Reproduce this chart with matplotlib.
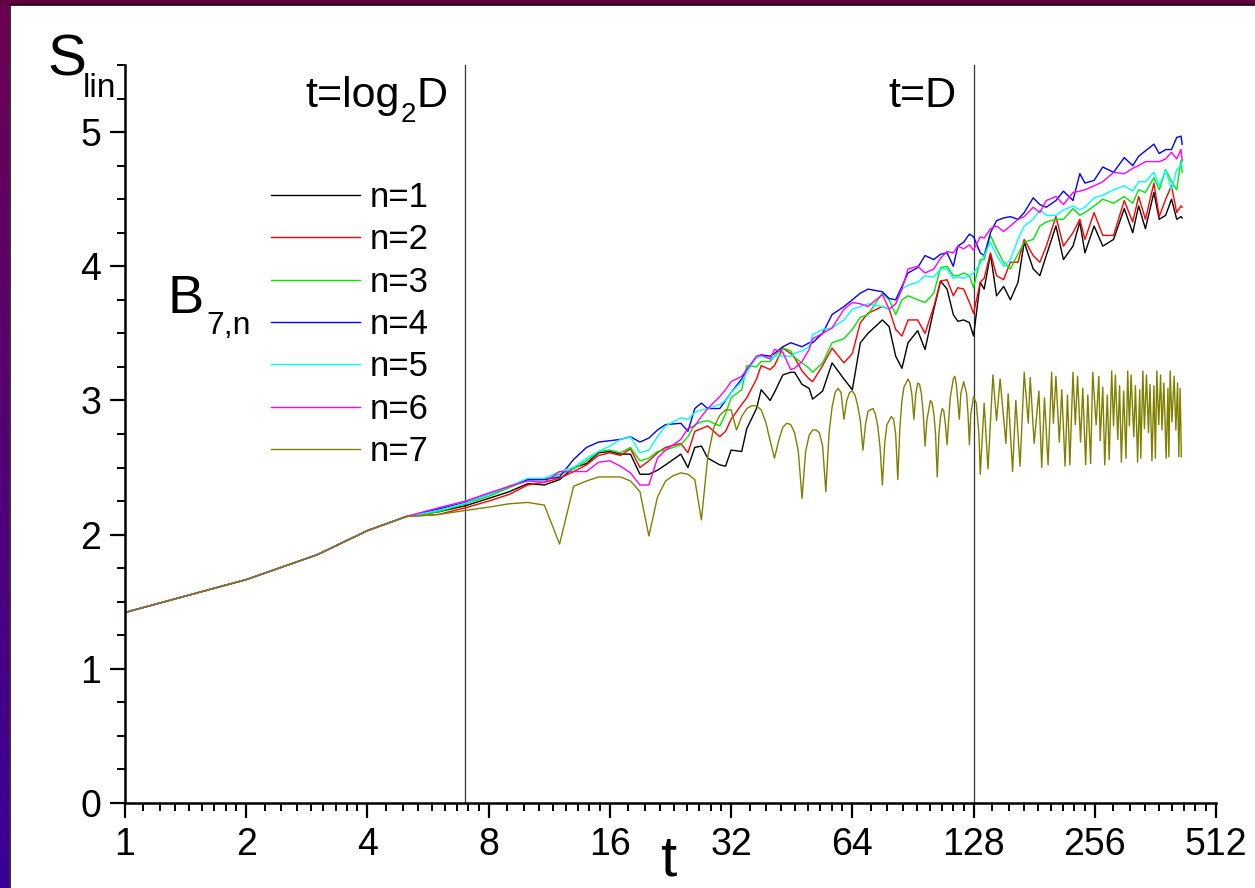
import numpy as np
import matplotlib
matplotlib.use("Agg")
import matplotlib.pyplot as plt
from matplotlib.ticker import FixedLocator, MultipleLocator, NullFormatter

plt.rcParams['font.family'] = ['Liberation Sans Narrow', 'Liberation Sans', 'DejaVu Sans']

# common start of all curves
t_start = [1, 2, 3, 4, 5]
s_start = [1.42, 1.665, 1.85, 2.03, 2.135]

# sample times for n=1..6
t_mid = [6, 7, 8, 9, 10, 11, 12, 13, 14, 15,
         16, 17, 18, 19, 20, 21, 22, 24, 25, 26,
         27, 28, 30, 31, 32, 34, 35, 37, 38, 40,
         41, 43, 45, 46, 48, 50, 51, 54, 57, 61,
         64, 67, 70, 76, 79, 82, 85, 88, 93, 97,
         102, 106, 110, 114, 117, 121, 125, 128, 133, 136,
         141, 146, 152, 158, 165, 171, 180, 187, 194, 205,
         214, 226, 235, 242, 255, 268, 285, 303, 318, 329,
         342, 359, 370, 384, 397, 409, 419, 422]

s_n1 = [2.17, 2.215, 2.27, 2.32, 2.38, 2.37, 2.41, 2.50, 2.53, 2.61,
        2.62, 2.60, 2.60, 2.45, 2.45, 2.48, 2.52, 2.60, 2.50, 2.65,
        2.66, 2.57, 2.52, 2.51, 2.63, 2.62, 2.79, 2.94, 3.08, 3.00,
        3.06, 3.19, 3.21, 3.21, 3.12, 3.09, 3.01, 3.07, 3.28, 3.16,
        3.08, 3.43, 3.50, 3.60, 3.55, 3.33, 3.24, 3.43, 3.52, 3.38,
        3.68, 3.89, 3.83, 3.64, 3.59, 3.60, 3.58, 3.48, 3.88, 3.83,
        4.09, 3.78, 3.85, 3.75, 3.88, 4.18, 3.98, 3.93, 4.08, 4.30,
        4.05, 4.15, 4.33, 4.10, 4.30, 4.15, 4.20, 4.43, 4.25, 4.45,
        4.28, 4.55, 4.35, 4.38, 4.50, 4.35, 4.37, 4.36]

s_n2 = [2.15, 2.20, 2.25, 2.30, 2.37, 2.39, 2.42, 2.47, 2.52, 2.59,
        2.61, 2.59, 2.64, 2.50, 2.55, 2.61, 2.65, 2.68, 2.61, 2.77,
        2.79, 2.81, 2.73, 2.77, 2.86, 2.97, 3.02, 3.16, 3.26, 3.23,
        3.26, 3.39, 3.35, 3.32, 3.22, 3.16, 3.14, 3.26, 3.39, 3.28,
        3.35, 3.58, 3.65, 3.70, 3.68, 3.53, 3.48, 3.60, 3.60, 3.50,
        3.70, 3.89, 3.90, 3.78, 3.84, 3.83, 3.73, 3.65, 3.88, 3.91,
        4.10, 3.93, 3.90, 4.03, 4.03, 4.20, 4.08, 4.03, 4.15, 4.37,
        4.15, 4.25, 4.35, 4.20, 4.40, 4.23, 4.23, 4.49, 4.33, 4.52,
        4.35, 4.62, 4.37, 4.50, 4.60, 4.40, 4.45, 4.44]

s_n3 = [2.17, 2.23, 2.285, 2.35, 2.41, 2.41, 2.45, 2.49, 2.55, 2.62,
        2.63, 2.61, 2.65, 2.55, 2.57, 2.62, 2.63, 2.67, 2.73, 2.82,
        2.84, 2.85, 2.81, 2.90, 3.02, 3.08, 3.26, 3.25, 3.29, 3.29,
        3.33, 3.39, 3.37, 3.32, 3.28, 3.24, 3.21, 3.28, 3.43, 3.46,
        3.53, 3.62, 3.64, 3.80, 3.75, 3.64, 3.75, 3.78, 3.75, 3.73,
        3.80, 3.99, 4.00, 3.93, 3.93, 3.95, 3.93, 3.84, 4.05, 4.05,
        4.23, 4.13, 4.03, 3.98, 4.09, 4.18, 4.20, 4.30, 4.33, 4.35,
        4.35, 4.43, 4.38, 4.40, 4.45, 4.50, 4.47, 4.52, 4.47, 4.57,
        4.55, 4.66, 4.57, 4.72, 4.63, 4.57, 4.79, 4.70]

s_n4 = [2.19, 2.24, 2.30, 2.36, 2.41, 2.41, 2.43, 2.56, 2.65, 2.69,
        2.70, 2.71, 2.73, 2.69, 2.72, 2.78, 2.82, 2.83, 2.77, 2.94,
        2.98, 2.94, 2.94, 3.00, 3.06, 3.16, 3.23, 3.32, 3.34, 3.33,
        3.35, 3.40, 3.43, 3.42, 3.40, 3.43, 3.43, 3.50, 3.64, 3.70,
        3.75, 3.80, 3.83, 3.81, 3.76, 3.75, 3.85, 3.95, 3.99, 4.08,
        4.05, 4.09, 4.10, 4.00, 4.15, 4.18, 4.24, 4.22, 4.10, 4.08,
        4.25, 4.34, 4.36, 4.37, 4.35, 4.40, 4.51, 4.46, 4.44, 4.49,
        4.56, 4.49, 4.69, 4.62, 4.64, 4.74, 4.70, 4.81, 4.75, 4.82,
        4.86, 4.91, 4.84, 4.87, 4.87, 4.96, 4.97, 4.91]

s_n5 = [2.18, 2.235, 2.30, 2.36, 2.42, 2.42, 2.47, 2.50, 2.57, 2.62,
        2.66, 2.71, 2.73, 2.61, 2.63, 2.73, 2.81, 2.87, 2.86, 2.91,
        2.93, 2.94, 2.97, 3.00, 3.06, 3.14, 3.21, 3.32, 3.33, 3.31,
        3.33, 3.33, 3.33, 3.35, 3.37, 3.40, 3.49, 3.53, 3.54, 3.60,
        3.68, 3.70, 3.72, 3.70, 3.68, 3.72, 3.83, 3.86, 3.88, 3.93,
        3.92, 3.98, 3.98, 3.91, 3.92, 3.91, 3.93, 3.95, 4.02, 4.08,
        4.18, 4.08, 4.00, 4.05, 4.20, 4.30, 4.35, 4.42, 4.38, 4.38,
        4.42, 4.45, 4.42, 4.44, 4.51, 4.53, 4.57, 4.60, 4.56, 4.63,
        4.63, 4.70, 4.60, 4.72, 4.57, 4.72, 4.75, 4.78]

s_n6 = [2.20, 2.25, 2.31, 2.36, 2.40, 2.39, 2.47, 2.47, 2.47, 2.54,
        2.55, 2.51, 2.46, 2.37, 2.37, 2.57, 2.63, 2.71, 2.79, 2.81,
        2.88, 2.94, 3.03, 3.08, 3.14, 3.18, 3.23, 3.33, 3.34, 3.31,
        3.38, 3.36, 3.23, 3.24, 3.29, 3.38, 3.46, 3.50, 3.54, 3.68,
        3.73, 3.72, 3.70, 3.79, 3.68, 3.72, 3.83, 3.98, 4.00, 3.95,
        3.98, 4.06, 4.11, 4.10, 4.15, 4.13, 4.16, 4.12, 4.22, 4.21,
        4.28, 4.30, 4.26, 4.30, 4.35, 4.37, 4.44, 4.40, 4.49, 4.52,
        4.46, 4.55, 4.56, 4.57, 4.60, 4.63, 4.70, 4.69, 4.73, 4.75,
        4.78, 4.78, 4.78, 4.80, 4.85, 4.80, 4.87, 4.79]

# n=7 oscillates strongly, own sample times
t_n7 = [6, 7, 8, 9, 10, 11, 12, 13, 14, 15, 16, 17, 18, 19, 20,
        21, 22, 23, 24, 25, 26, 27, 28, 29, 30, 31, 32, 33, 34, 35,
        36, 37, 38, 39, 40, 41, 42, 43, 44, 45, 46, 47, 48, 49, 50,
        51, 52, 53, 54, 55, 56, 57, 58, 59, 60, 61, 62, 63, 64, 65,
        66, 67, 68, 69, 70, 72, 73, 74, 75, 76, 77, 78, 80, 81, 82,
        83, 84, 85, 86, 88, 89, 90, 91, 92, 93, 94, 95, 96, 97, 98,
        100, 101, 102, 103, 104, 105, 106, 107, 108, 109, 110, 112, 114, 115, 116,
        118, 119, 121, 123, 124, 125, 126, 128, 130, 132, 133, 136, 139, 143, 146,
        149, 154, 156, 160, 163, 167, 171, 175, 177, 181, 186, 189, 192, 196, 200,
        202, 205, 209, 212, 216, 219, 222, 226, 229, 232, 236, 239, 243, 246, 250,
        253, 258, 262, 264, 268, 271, 275, 278, 282, 285, 288, 292, 295, 298, 302,
        306, 309, 312, 315, 320, 323, 327, 331, 333, 337, 340, 344, 348, 351, 355,
        359, 362, 365, 369, 373, 376, 380, 385, 389, 391, 394, 398, 403, 407, 411,
        414, 417, 420]

s_n7 = [2.15, 2.18, 2.205, 2.23, 2.24, 2.22, 1.93, 2.36, 2.40, 2.43, 2.43, 2.43, 2.40, 2.32, 1.99,
        2.28, 2.40, 2.44, 2.46, 2.45, 2.41, 2.11, 2.58, 2.80, 2.89, 2.93, 2.93, 2.78, 2.88, 2.94,
        2.96, 2.96, 2.93, 2.84, 2.70, 2.57, 2.70, 2.80, 2.83, 2.82, 2.76, 2.62, 2.27, 2.62, 2.74,
        2.78, 2.78, 2.76, 2.66, 2.32, 2.75, 2.95, 3.06, 3.09, 3.06, 2.86, 3.00, 3.06, 3.07, 3.04,
        2.96, 2.85, 2.63, 2.82, 2.92, 2.94, 2.90, 2.81, 2.65, 2.37, 2.68, 2.82, 2.88, 2.86, 2.75,
        2.41, 2.80, 3.00, 3.10, 3.16, 3.13, 3.04, 2.86, 3.05, 3.13, 3.12, 3.05, 2.90, 2.66, 2.85,
        3.00, 2.98, 2.90, 2.75, 2.43, 2.75, 2.88, 2.94, 2.92, 2.82, 2.67, 3.02, 3.16, 3.18, 3.12,
        2.86, 3.05, 3.14, 3.05, 2.90, 2.67, 2.90, 3.03, 2.98, 2.75, 2.45, 2.98, 2.49, 3.19, 2.85,
        3.16, 2.68, 3.05, 2.47, 3.00, 2.51, 3.21, 2.83, 3.17, 2.68, 3.07, 2.50, 3.02, 2.52, 3.21,
        2.83, 3.18, 2.69, 3.08, 2.51, 3.04, 2.52, 3.21, 2.82, 3.18, 2.69, 3.09, 2.52, 3.04, 2.53,
        3.21, 2.82, 3.18, 2.70, 3.10, 2.52, 3.04, 2.56, 3.22, 2.81, 3.19, 2.71, 3.11, 2.54, 3.07,
        2.57, 3.22, 2.81, 3.19, 2.73, 3.11, 2.54, 3.08, 2.57, 3.22, 2.79, 3.19, 2.76, 3.12, 2.55,
        3.11, 2.57, 3.22, 2.82, 3.19, 2.78, 3.13, 2.57, 3.09, 2.58, 3.22, 2.84, 3.18, 2.78, 3.13,
        2.58, 3.09, 2.58]

labels = ['n=1', 'n=2', 'n=3', 'n=4', 'n=5', 'n=6', 'n=7']
colors = ['#000000', '#ff0000', '#00e800', '#0000ff', '#00ffff', '#ff00ff', '#808000']

fig = plt.figure(figsize=(12.55, 8.88), dpi=100, facecolor='white')

# slide background edges (purple gradient on the left, dark strip on top)
left_bg = fig.add_axes([0, 0, 9 / 1255, 1])
grad = np.linspace(0, 1, 256).reshape(-1, 1)
cmap = matplotlib.colors.LinearSegmentedColormap.from_list('bg', ['#6c0052', '#3a0098'])
left_bg.imshow(grad, aspect='auto', cmap=cmap, extent=[0, 1, 0, 1], origin='upper')
left_bg.axis('off')
top_bg = fig.add_axes([0, 1 - 5 / 888, 1, 5 / 888])
top_bg.set_facecolor('#60003f')
top_bg.set_xticks([])
top_bg.set_yticks([])
for sp in top_bg.spines.values():
    sp.set_visible(False)
fig.add_artist(plt.Line2D([9.5 / 1255, 9.5 / 1255], [0, 1 - 5 / 888], color='#1a0010', lw=1.2))
fig.add_artist(plt.Line2D([9.5 / 1255, 1], [1 - 5.5 / 888, 1 - 5.5 / 888], color='#1a0010', lw=1.2))

ax = fig.add_axes([125 / 1255, 1 - 803 / 888, (1216 - 125) / 1255, (803 - 65) / 888])

series = [s_n1, s_n2, s_n3, s_n4, s_n5, s_n6]
for s, lab, c in zip(series, labels[:6], colors[:6]):
    ax.plot(t_start + t_mid, s_start + s, color=c, lw=1.0, label=lab)
ax.plot(t_start + t_n7, s_start + s_n7, color=colors[6], lw=1.0, label=labels[6])

ax.axvline(7, color='#333333', lw=0.9, zorder=0)
ax.axvline(128, color='#333333', lw=0.9, zorder=0)

ax.set_xscale('log', base=2)
ax.set_xlim(1, 512)
ax.set_ylim(0, 5.5)
major_x = [1, 2, 4, 8, 16, 32, 64, 128, 256, 512]
ax.xaxis.set_major_locator(FixedLocator(major_x))
ax.set_xticklabels([str(v) for v in major_x])
minor_x = [2 ** k * (1 + j / 9) for k in range(9) for j in range(1, 9)]
ax.xaxis.set_minor_locator(FixedLocator(minor_x))
ax.xaxis.set_minor_formatter(NullFormatter())
ax.yaxis.set_major_locator(MultipleLocator(1))
ax.yaxis.set_minor_locator(MultipleLocator(0.25))

for side in ['top', 'right']:
    ax.spines[side].set_visible(False)
for side in ['left', 'bottom']:
    ax.spines[side].set_linewidth(1.8)
ax.tick_params(which='major', direction='out', length=11, width=1.6, labelsize=27, color='black')
ax.tick_params(axis='x', which='major', pad=6)
ax.tick_params(axis='y', which='major', pad=6)
ax.tick_params(which='minor', direction='out', length=6, width=1.4)

leg = ax.legend(loc='upper left', bbox_to_anchor=(271 / 1255, 1 - 181 / 888),
                bbox_transform=fig.transFigure, frameon=False, fontsize=25,
                handlelength=2.55, handletextpad=0.3, labelspacing=0.27,
                borderpad=0, borderaxespad=0)
for line in leg.get_lines():
    line.set_linewidth(1.0)

# axis titles and annotations
fig.text(47 / 1255, 1 - 75 / 888, 'S', fontsize=42, va='baseline', ha='left')
fig.text(83 / 1255, 1 - 97 / 888, 'lin', fontsize=24, va='baseline', ha='left')
fig.text(167 / 1255, 1 - 313 / 888, 'B', fontsize=39, va='baseline', ha='left')
fig.text(206 / 1255, 1 - 334 / 888, '7,n', fontsize=23, va='baseline', ha='left')
fig.text(888 / 1255, 1 - 107 / 888, 't=D', fontsize=31, va='baseline', ha='left')
fig.text(660 / 1255, 1 - 875 / 888, 't', fontsize=42, va='baseline', ha='left')

# t=log_2 D built from pieces so the "=" keeps text spacing
renderer = fig.canvas.get_renderer()
part1 = fig.text(305 / 1255, 1 - 107 / 888, 't=log', fontsize=31, va='baseline', ha='left')
x1 = part1.get_window_extent(renderer).x1 / fig.bbox.width
part2 = fig.text(x1 + 1 / 1255, 1 - 122 / 888, '2', fontsize=20, va='baseline', ha='left')
x2 = part2.get_window_extent(renderer).x1 / fig.bbox.width
fig.text(x2 + 1 / 1255, 1 - 107 / 888, 'D', fontsize=31, va='baseline', ha='left')

fig.savefig('out.png', dpi=100, facecolor='white')
